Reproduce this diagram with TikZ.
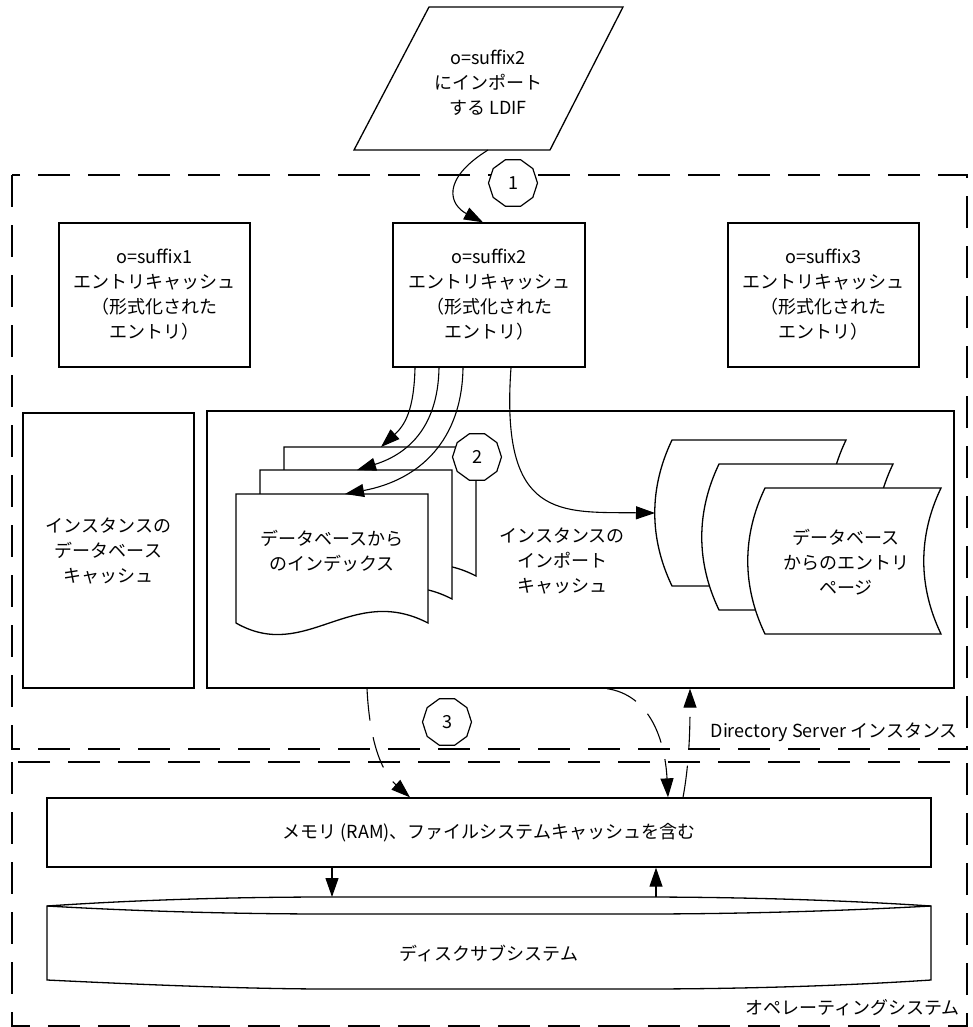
\documentclass[tikz,border=0pt]{standalone}
\usepackage{fontspec}
\setmainfont{Noto Sans CJK JP}
\usetikzlibrary{arrows.meta,shapes.geometric,calc}
\begin{document}
\begin{tikzpicture}[x=1pt,y=-1pt,
  txt/.style={font=\fontsize{18}{25}\selectfont, align=center, inner sep=0pt},
  box/.style={draw, line width=1.3pt, fill=white, txt},
  dbox/.style={draw, line width=1.3pt, dash pattern=on 32pt off 18pt},
  num/.style={draw, line width=1.2pt, fill=white, regular polygon, regular polygon sides=10, minimum size=49pt, inner sep=0pt, font=\fontsize{18}{20}\selectfont},
  arr/.style={line width=1.1pt, -{Triangle[length=19pt,width=13pt]}},
  darr/.style={arr, dash pattern=on 32pt off 17pt},
  shp/.style={draw, line width=1.3pt, fill=white, line join=miter}
]
\useasboundingbox (0,0) rectangle (973,1027);

% outer dashed regions
\draw[dbox] (12,175) rectangle (967,749);
\draw[dbox] (12,762) rectangle (967,1026);
\node[txt, anchor=east] (dslbl) at (958,732) {Directory Server インスタンス};
\node[txt, anchor=east] (oslbl) at (960,1008) {オペレーティングシステム};

% LDIF parallelogram
\draw[shp] (429,7) -- (623,7) -- (550,150) -- (354,150) -- cycle;
\node[txt] (ldif) at (488,83) {o=suffix2\\にインポート\\する LDIF};
\coordinate (ldifb) at (488,150);

% entry caches
\node[box, minimum width=191pt, minimum height=144pt] (s1) at (154.5,295) {o=suffix1\\エントリキャッシュ\\（形式化された\\エントリ）};
\node[box, minimum width=192pt, minimum height=144pt] (s2) at (489,295) {o=suffix2\\エントリキャッシュ\\（形式化された\\エントリ）};
\node[box, minimum width=191pt, minimum height=144pt] (s3) at (823.5,295) {o=suffix3\\エントリキャッシュ\\（形式化された\\エントリ）};

% database cache and import cache
\node[box, minimum width=171pt, minimum height=275pt] (dbc) at (108.5,550.5) {インスタンスの\\データベース\\キャッシュ};
\node[box, minimum width=747pt, minimum height=277pt] (imp) at (580.5,549.5) {};
\node[txt] (imptxt) at (562,561) {インスタンスの\\インポート\\キャッシュ};

% index documents
\draw[shp] (284,447) -- (476,447) -- (476,576) .. controls (399,536) and (354,616) .. (284,576) -- cycle;
\draw[shp] (260,470) -- (452,470) -- (452,599) .. controls (375,559) and (330,639) .. (260,599) -- cycle;
\draw[shp] (236,494) -- (428,494) -- (428,623) .. controls (351,583) and (306,663) .. (236,623) -- cycle;
\node[txt] (idx) at (332,551) {データベースから\\のインデックス};
\coordinate (d1) at (381,447);
\coordinate (d2) at (357,470);
\coordinate (d3) at (345,494);

% entry pages
\draw[shp] (672,440) -- (846,440) .. controls (823,488) and (823,538) .. (846,586) -- (672,586) .. controls (649,538) and (649,488) .. (672,440) -- cycle;
\draw[shp] (719,464) -- (893,464) .. controls (870,512) and (870,562) .. (893,610) -- (719,610) .. controls (696,562) and (696,512) .. (719,464) -- cycle;
\draw[shp] (765,488) -- (941,488) .. controls (918,536) and (918,586) .. (941,634) -- (765,634) .. controls (742,586) and (742,536) .. (765,488) -- cycle;
\node[txt] (ent) at (846,562) {データベース\\からのエントリ\\ページ};
\coordinate (ep) at (655,513);

% memory and disk
\node[box, minimum width=884pt, minimum height=69pt] (mem) at (489,832.5) {メモリ (RAM)、ファイルシステムキャッシュを含む};
\draw[shp] (47,906) .. controls (150,899) and (250,897) .. (330,897) -- (640,897) .. controls (740,897) and (840,900) .. (931,906) -- (931,980) .. controls (840,986) and (740,989) .. (640,989) -- (330,989) .. controls (250,989) and (150,985) .. (47,980) -- cycle;
\draw[line width=1.3pt] (47,906) .. controls (150,912) and (250,914) .. (330,914) -- (640,914) .. controls (740,914) and (840,911) .. (931,906);
\node[txt] (disk) at (489,953) {ディスクサブシステム};
\coordinate (dk1) at (332,897);
\coordinate (dk2) at (656,897);

% connectors
\draw[arr] (ldifb) .. controls (440,180) and (450,205) .. ($(s2.north)+(-6,0)$);
\draw[arr] ($(s2.south)+(-74,0)$) .. controls (414,410) and (405,425) .. (d1);
\draw[arr] ($(s2.south)+(-50,0)$) .. controls (438,430) and (405,455) .. (d2);
\draw[arr] ($(s2.south)+(-26,0)$) .. controls (462,440) and (420,480) .. (d3);
\draw[arr] ($(s2.south)+(22,0)$) .. controls (500,520) and (560,512) .. (ep);

\draw[darr] ($(imp.south)+(-213.5,0)$) .. controls (370,750) and (385,775) .. ($(mem.north)+(-79,0)$);
\draw[darr] ($(imp.south)+(26.5,0)$) .. controls (650,695) and (665,740) .. ($(mem.north)+(179,0)$);
\draw[darr] ($(mem.north)+(194,0)$) .. controls (690,760) and (690,720) .. ($(imp.south)+(109.5,0)$);

\draw[arr] ($(mem.south)+(-157,0)$) -- (dk1);
\draw[arr] (dk2) -- ($(mem.south)+(167,0)$);

% step numbers
\node[num] (n1) at (513,183) {1};
\node[num] (n2) at (477,457) {2};
\node[num] (n3) at (447,722) {3};
\end{tikzpicture}
\end{document}
